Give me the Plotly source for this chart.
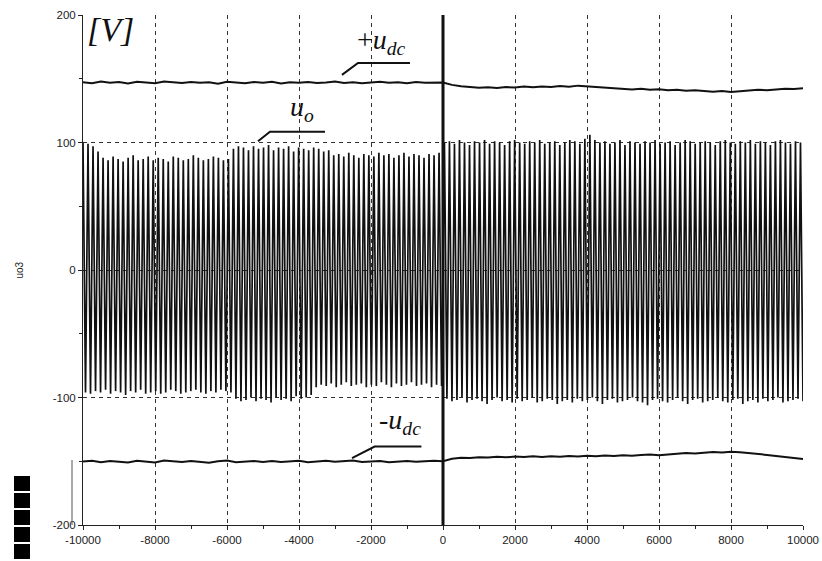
import numpy as np
import plotly.graph_objects as go

# Inverter output voltage u_o: alternating positive / negative sample peaks per cycle [V]
uo_top_before = [100, 99, 97, 93,
                 88, 86, 89, 87, 85, 88, 90, 86, 87, 89, 86, 88, 87, 85, 89, 88, 86, 87, 90, 88, 86, 87, 89, 88, 86, 87,
                 95, 97, 96, 94, 97, 95, 96, 98, 94, 96, 95, 97, 93, 96, 95, 94, 96, 95, 93, 94,
                 90, 91, 89, 92, 90, 88, 91, 90, 89, 92, 90, 91, 88, 90, 92, 89, 91, 90, 88, 91, 90, 92]
uo_bot_before = [-96, -97, -95, -96, -94, -97, -95, -96, -98, -95, -96, -94, -97, -96, -95, -97, -96, -94, -95, -97,
                 -96, -95, -94, -96, -97, -95, -96, -94, -95, -96,
                 -101, -103, -102, -100, -103, -101, -102, -104, -100, -102, -101, -103, -99, -101, -100, -98,
                 -92, -90, -91, -89, -92, -90, -88, -91, -90, -89, -92, -90, -91, -88, -90, -92, -89, -91, -90, -88,
                 -91, -90, -89, -92, -90, -91]
uo_top_after = [100, 101, 99, 102, 100, 98, 101, 100, 102, 99, 101, 100, 98, 101, 102, 100, 99, 101, 100, 102,
                99, 100, 101, 98, 100, 102, 101, 99, 103, 106, 102, 100, 101, 99, 100, 102, 98, 101, 100, 99,
                101, 100, 102, 99, 100, 101, 98, 100, 102, 101, 99, 100, 101, 100, 98, 101, 102, 100, 99, 101,
                100, 102, 99, 101, 100, 98, 101, 102, 100, 99, 101, 100]
uo_bot_after = [-101, -103, -102, -100, -104, -102, -101, -103, -105, -102, -100, -103, -102, -104, -101, -103,
                -102, -100, -104, -103, -101, -102, -105, -103, -102, -104, -101, -103, -102, -100, -103, -105,
                -102, -101, -104, -103, -102, -100, -103, -104, -106, -102, -101, -103, -104, -102, -100, -103,
                -105, -102, -101, -104, -103, -102, -100, -103, -104, -102, -101, -105, -103, -102, -104, -101,
                -103, -102, -100, -104, -103, -102, -101, -103]

# DC-link voltages, sampled every 250 time units from -10000 to 10000 [V]
udc_pos = [147.2, 146.5, 147.8, 146.9, 147.4, 146.2, 147.6, 147.0, 146.4, 147.9, 147.1, 146.6, 147.5, 146.8,
           147.3, 146.1, 147.7, 147.0, 146.5, 147.4, 146.9, 147.6, 146.3, 147.2, 146.8, 147.5, 146.6, 147.1,
           147.8, 146.7, 147.3, 146.4, 147.0, 147.6, 146.9, 147.2, 146.5, 147.4, 146.8, 147.1,
           147.0,
           145.2, 144.1, 143.6, 143.0, 143.4, 142.8, 143.5, 143.1, 143.9, 143.3, 144.0, 143.6, 144.4, 143.8,
           144.6, 144.1, 143.5, 142.9, 142.4, 142.0, 141.6, 142.2, 141.3, 141.8, 140.9, 141.4, 140.6, 141.0,
           140.2, 139.8, 140.4, 139.6, 140.1, 140.8, 141.3, 141.0, 141.7, 142.2, 141.9, 142.5]
udc_neg = [-150.2, -149.6, -150.8, -149.9, -150.4, -151.0, -149.7, -150.3, -150.9, -149.5, -150.1, -150.6,
           -149.8, -150.5, -151.1, -150.0, -149.4, -150.7, -150.2, -149.8, -150.5, -149.9, -150.6, -150.1,
           -149.6, -150.8, -150.3, -149.7, -150.4, -150.0, -149.5, -150.6, -150.2, -149.9, -150.7, -150.1,
           -149.8, -150.4, -150.0, -149.6,
           -150.0,
           -148.0, -147.2, -147.5, -146.8, -147.1, -146.5, -146.9, -146.3, -146.7, -146.1, -146.6, -146.0,
           -146.4, -145.8, -146.2, -145.6, -146.0, -145.5, -145.9, -145.3, -145.7, -145.1, -144.8, -145.2,
           -144.5, -144.0, -143.6, -143.9, -143.2, -142.8, -143.1, -142.6, -143.0, -143.5, -144.2, -145.0,
           -145.8, -146.6, -147.4, -148.2]

x_tickvals = [-10000, -8000, -6000, -4000, -2000, 0, 2000, 4000, 6000, 8000, 10000]
x_ticktext = ["-10000", "-8000", "-6000", "-4000", "-2000", "0", "2000", "4000", "6000", "8000", "10000"]
y_tickvals = [-200, -100, 0, 100, 200]
y_ticktext = ["-200", "-100", "0", "100", "200"]


def zigzag(tops, bots, x0, x1):
    vals = []
    for t, b in zip(tops, bots):
        vals.extend([t, b])
    xs = np.linspace(x0, x1, len(vals))
    return xs, vals


xa, ya = zigzag(uo_top_before, uo_bot_before, -10000, -40)
xb, yb = zigzag(uo_top_after, uo_bot_after, 40, 10000)
x_uo = list(xa) + list(xb)
y_uo = list(ya) + list(yb)
x_dc = np.linspace(-10000, 10000, len(udc_pos))

INK = "#111111"
fig = go.Figure()
fig.add_trace(go.Scatter(x=x_uo, y=y_uo, mode="lines", line=dict(color=INK, width=1.7), hoverinfo="skip"))
fig.add_trace(go.Scatter(x=x_dc, y=udc_pos, mode="lines", line=dict(color=INK, width=2)))
fig.add_trace(go.Scatter(x=x_dc, y=udc_neg, mode="lines", line=dict(color=INK, width=2)))

# cursor at t = 0
fig.add_shape(type="line", x0=0, x1=0, y0=-200, y1=200, xref="x", yref="y",
              line=dict(color=INK, width=3), layer="above")

# leader lines for the labels
leaders = [
    [(-2806, 153), (-2361, 162.4), (-917, 162.4)],
    [(-5139, 101), (-4806, 108.5), (-3278, 108.5)],
    [(-2528, -147.5), (-1900, -138.5), (-600, -138.5)],
]
for pts in leaders:
    path = "M " + " L ".join(f"{px},{py}" for px, py in pts)
    fig.add_shape(type="path", path=path, xref="x", yref="y", line=dict(color=INK, width=2))

serif = dict(family="Liberation Serif", color=INK)
fig.add_annotation(x=-9950, y=189, xref="x", yref="y", text="<i>[V]</i>", showarrow=False,
                   xanchor="left", yanchor="middle", font=dict(size=34, **serif))
fig.add_annotation(x=-2450, y=179, xref="x", yref="y", text="+<i>u</i><sub><i>dc</i></sub>",
                   showarrow=False, xanchor="left", yanchor="middle", font=dict(size=28, **serif))
fig.add_annotation(x=-4300, y=127, xref="x", yref="y", text="<i>u</i><sub><i>o</i></sub>",
                   showarrow=False, xanchor="left", yanchor="middle", font=dict(size=28, **serif))
fig.add_annotation(x=-1820, y=-119, xref="x", yref="y", text="-<i>u</i><sub><i>dc</i></sub>",
                   showarrow=False, xanchor="left", yanchor="middle", font=dict(size=28, **serif))

# axis title
fig.add_annotation(x=-0.1, y=0.5, xref="paper", yref="paper", text="uo3", textangle=-90,
                   showarrow=False, font=dict(family="Liberation Sans", size=10, color="#222"))

# marker blocks in the lower-left corner
for k in range(5):
    top = 476 + k * 17
    fig.add_shape(type="rect", xref="paper", yref="paper",
                  x0=(14 - 83) / 720, x1=(30 - 83) / 720,
                  y0=(525 - top) / 510, y1=(525 - top - 15) / 510,
                  fillcolor="#000", line=dict(width=0))
fig.add_shape(type="line", xref="paper", yref="paper", x0=(72 - 83) / 720, x1=(72 - 83) / 720,
              y0=(525 - 460) / 510, y1=0, line=dict(color="#555", width=1))

grid = dict(showgrid=True, gridcolor="#333", gridwidth=1, griddash="4px,4px")
tickfont = dict(family="Liberation Sans", size=11.5, color="#222")
fig.update_layout(
    width=822, height=561, autosize=False,
    margin=dict(l=83, r=19, t=15, b=36, autoexpand=False),
    paper_bgcolor="white", plot_bgcolor="white",
    showlegend=False,
    xaxis=dict(range=[-10000, 10000], tickvals=x_tickvals, ticktext=x_ticktext, zeroline=False,
               automargin=False,
               showline=True, linecolor="#222", linewidth=1, ticks="outside", ticklen=4, tickcolor="#222",
               minor=dict(dtick=1000, tick0=0, ticks="outside", ticklen=3, tickcolor="#222", showgrid=False),
               tickfont=tickfont, **grid),
    yaxis=dict(range=[-200, 200], tickvals=y_tickvals, ticktext=y_ticktext, zeroline=False,
               automargin=False,
               showline=True, linecolor="#222", linewidth=1, ticks="outside", ticklen=4, tickcolor="#222",
               minor=dict(dtick=50, tick0=0, ticks="outside", ticklen=3, tickcolor="#222", showgrid=False),
               tickfont=tickfont, **grid),
)

fig.write_html("out.html")
